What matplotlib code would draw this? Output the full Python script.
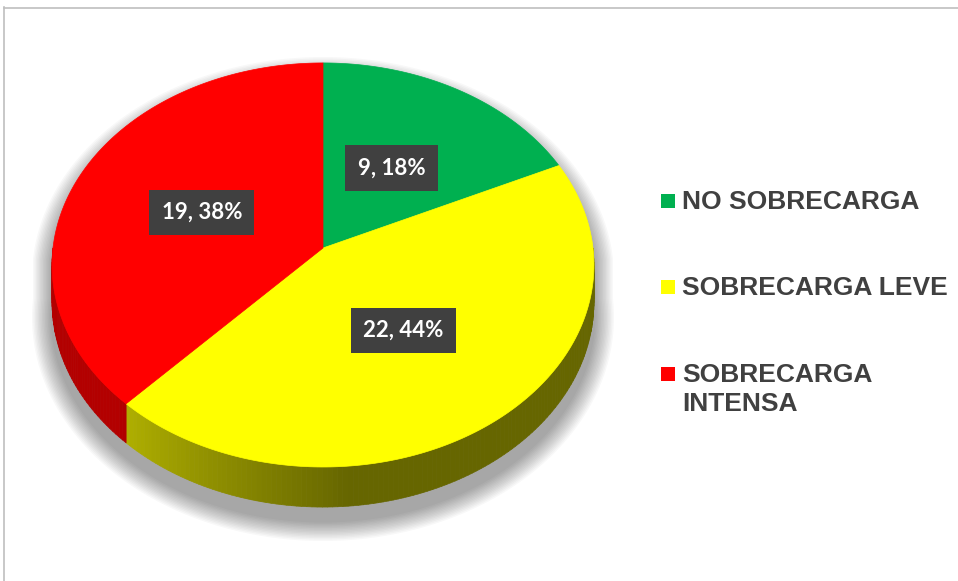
"""
3D-style pie chart: carga de trabajo (sobrecarga) por categoría.
Hand-rolled perspective projection, since matplotlib has no 3D pie.
"""

import numpy as np
import matplotlib
matplotlib.use("Agg")
import matplotlib.pyplot as plt
from matplotlib.collections import PolyCollection
from matplotlib.patches import Polygon
from matplotlib.colors import to_rgb

# ── Data ───────────────────────────────────────────────────────────────────────

categories = ["NO SOBRECARGA", "SOBRECARGA LEVE", "SOBRECARGA\nINTENSA"]
counts     = [9, 22, 19]
colors     = ["#00B050", "#FFFF00", "#FF0000"]

# ── Layout (pixel coords, y grows downward) ────────────────────────────────────

FIG_W, FIG_H = 958, 581
CX, CY   = 323, 248        # pie centre on the top face
RX, RY   = 270, 200.6      # radii of the tilted disk
PERSP    = 0.084           # perspective foreshortening of the far side
THICK    = 36.7            # slab thickness
LABEL_R  = 0.49            # data label radius (fraction)

LEG_X         = 668
LEG_BASELINES = [209, 295, 382]
LEG_LINE_GAP  = 29
TEXT_GREY     = "#404040"


def project(theta, r=1.0, drop=0.0):
    """Map a point on the disk (angle clockwise from 12 o'clock) to pixels."""
    u = r * np.sin(theta)
    v = r * np.cos(theta)
    w = 1 + PERSP * v
    return CX + RX * u / w, CY - RY * v / w + THICK * drop / w


def wall_shade(theta):
    deg = np.degrees(theta)
    t = np.clip((deg - 175) / 50, 0, 1)
    return 0.40 + 0.30 * t


def main() -> None:
    fig = plt.figure(figsize=(FIG_W / 100, FIG_H / 100), dpi=100)
    ax = fig.add_axes([0, 0, 1, 1])
    ax.set_xlim(0, FIG_W)
    ax.set_ylim(FIG_H, 0)
    ax.axis("off")

    # chart frame (only top/left visible in the crop)
    ax.plot([4, FIG_W], [7.5, 7.5], color="#BFBFBF", lw=1.2, zorder=0)
    ax.plot([4.5, 4.5], [7, FIG_H], color="#BFBFBF", lw=1.2, zorder=0)

    total = sum(counts)
    fracs = np.array(counts) / total
    edges = np.concatenate([[0], np.cumsum(fracs)]) * 2 * np.pi

    # ── soft shadow ──
    back = np.linspace(-np.pi / 2, np.pi / 2, 120)
    front = np.linspace(np.pi / 2, 3 * np.pi / 2, 120)
    bx, by = project(back)
    fx, fy = project(front, drop=1.0)
    sil = np.column_stack([np.r_[bx, fx], np.r_[by, fy]])
    sc_y = 285
    n_layers = 14
    for i in range(n_layers):
        e = 20 * (1 - i / n_layers)
        pts = sil.copy()
        pts[:, 0] = CX + (pts[:, 0] - CX) * (RX + e) / RX
        pts[:, 1] = sc_y + (pts[:, 1] - sc_y) * (222 + e) / 222 + 14
        ax.add_patch(Polygon(pts, closed=True, fc="black", ec="none",
                             alpha=0.028, zorder=1))

    # ── side walls (front half only) ──
    for (t0, t1), col in zip(zip(edges[:-1], edges[1:]), colors):
        a0, a1 = max(t0, np.pi / 2), min(t1, 3 * np.pi / 2)
        if a1 <= a0:
            continue
        ts = np.linspace(a0, a1, max(int(np.degrees(a1 - a0)), 2) + 1)
        quads, fcs = [], []
        rgb = np.array(to_rgb(col))
        for ta, tb in zip(ts[:-1], ts[1:]):
            xa, ya = project(ta)
            xb, yb = project(tb)
            xa2, ya2 = project(ta, drop=1.0)
            xb2, yb2 = project(tb, drop=1.0)
            quads.append([(xa, ya), (xb, yb), (xb2, yb2), (xa2, ya2)])
            fcs.append(rgb * wall_shade((ta + tb) / 2))
        ax.add_collection(PolyCollection(quads, facecolors=fcs,
                                         edgecolors=fcs, linewidths=0.5,
                                         zorder=2))

    # ── top faces ──
    for (t0, t1), col in zip(zip(edges[:-1], edges[1:]), colors):
        ts = np.linspace(t0, t1, 200)
        x, y = project(ts)
        pts = np.column_stack([np.r_[CX, x], np.r_[CY, y]])
        ax.add_patch(Polygon(pts, closed=True, fc=col, ec=col, lw=0.5,
                             zorder=3))

    # ── data labels ──
    for (t0, t1), n, f in zip(zip(edges[:-1], edges[1:]), counts, fracs):
        lx, ly = project((t0 + t1) / 2, r=LABEL_R)
        ax.text(lx, ly, f"{n}, {f * 100:.0f}%", ha="center", va="center",
                color="white", fontsize=16, fontweight="bold",
                family=["Lato", "DejaVu Sans"], zorder=5,
                bbox=dict(boxstyle="square,pad=0.55", fc="#404040",
                          ec="none"))

    # ── legend ──
    for cat, col, base in zip(categories, colors, LEG_BASELINES):
        ax.scatter([LEG_X], [base - 8], marker="s", s=100, color=col,
                   linewidths=0, zorder=5)
        for k, line in enumerate(cat.split("\n")):
            ax.text(LEG_X + 14, base + k * LEG_LINE_GAP, line, ha="left",
                    va="baseline", color=TEXT_GREY, fontsize=19,
                    fontweight="bold",
                    family=["Liberation Sans", "DejaVu Sans"], zorder=5)

    fig.savefig("out.png", dpi=100)
    plt.close(fig)


if __name__ == "__main__":
    main()
